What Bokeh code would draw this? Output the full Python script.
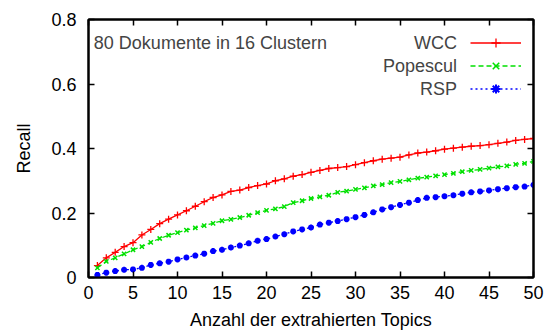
from bokeh.plotting import figure
from bokeh.models import (Range1d, FixedTicker, LinearAxis, Legend, LegendItem, Label)
from bokeh.embed import file_html
from bokeh.resources import INLINE

topics = list(range(1, 51))
wcc = [0.037, 0.061, 0.078, 0.096, 0.108, 0.132, 0.149, 0.167, 0.181, 0.194,
       0.207, 0.221, 0.235, 0.248, 0.256, 0.267, 0.271, 0.279, 0.285, 0.290,
       0.300, 0.306, 0.314, 0.319, 0.326, 0.332, 0.338, 0.341, 0.344, 0.350,
       0.356, 0.362, 0.367, 0.370, 0.373, 0.380, 0.386, 0.389, 0.393, 0.398,
       0.401, 0.404, 0.407, 0.409, 0.412, 0.416, 0.420, 0.425, 0.428, 0.431]
popescul = [0.030, 0.050, 0.061, 0.073, 0.086, 0.096, 0.109, 0.121, 0.131, 0.139,
            0.147, 0.154, 0.161, 0.168, 0.176, 0.180, 0.186, 0.193, 0.201, 0.208,
            0.213, 0.220, 0.232, 0.238, 0.245, 0.250, 0.255, 0.264, 0.268, 0.273,
            0.278, 0.284, 0.288, 0.294, 0.298, 0.303, 0.308, 0.311, 0.315, 0.319,
            0.323, 0.328, 0.332, 0.335, 0.339, 0.343, 0.346, 0.351, 0.354, 0.360]
rsp = [0.008, 0.015, 0.020, 0.024, 0.025, 0.030, 0.039, 0.044, 0.049, 0.056,
       0.062, 0.068, 0.074, 0.082, 0.086, 0.093, 0.099, 0.106, 0.114, 0.119,
       0.127, 0.134, 0.143, 0.149, 0.155, 0.164, 0.170, 0.175, 0.181, 0.187,
       0.194, 0.202, 0.211, 0.218, 0.225, 0.232, 0.240, 0.247, 0.249, 0.252,
       0.255, 0.260, 0.264, 0.267, 0.270, 0.274, 0.277, 0.280, 0.282, 0.287]

series_names = ["WCC", "Popescul", "RSP"]
xticks = [0, 5, 10, 15, 20, 25, 30, 35, 40, 45, 50]
yticks = [0, 0.2, 0.4, 0.6, 0.8]
ytick_labels = ["0", "0.2", "0.4", "0.6", "0.8"]
title_text = "80 Dokumente in 16 Clustern"
x_label = "Anzahl der extrahierten Topics"
y_label = "Recall"

FONT = "Liberation Sans"
FS = "18px"

p = figure(width=557, height=333, output_backend="svg", toolbar_location=None,
           x_range=Range1d(0, 50), y_range=Range1d(0, 0.8),
           min_border_left=88, min_border_right=24, min_border_top=19, min_border_bottom=56)
p.grid.visible = False
p.outline_line_color = "black"
p.outline_line_width = 2
p.background_fill_color = "white"
p.border_fill_color = "white"

xa = p.xaxis[0]
ya = p.yaxis[0]
xa.ticker = FixedTicker(ticks=xticks)
ya.ticker = FixedTicker(ticks=yticks)
ya.major_label_overrides = {t: l for t, l in zip(yticks, ytick_labels)}
for ax in (xa, ya):
    ax.major_tick_in = 6
    ax.major_tick_out = 0
    ax.minor_tick_in = 0
    ax.minor_tick_out = 0
    ax.major_tick_line_width = 1.5
    ax.axis_line_width = 2
    ax.major_label_text_font = FONT
    ax.major_label_text_font_size = FS
    ax.major_label_text_color = "black"
    ax.axis_label_text_font = FONT
    ax.axis_label_text_font_size = FS
    ax.axis_label_text_font_style = "normal"
    ax.axis_label_text_color = "black"
xa.axis_label = x_label
ya.axis_label = y_label
xa.major_label_standoff = 8
xa.axis_label_standoff = 8
ya.major_label_standoff = 12
ya.axis_label_standoff = 14

# mirrored ticks on top and right (no labels drawn)
for loc, tk in (("above", xticks), ("right", yticks)):
    ax = LinearAxis(ticker=FixedTicker(ticks=tk), major_tick_in=6, major_tick_out=0,
                    minor_tick_in=0, minor_tick_out=0, major_tick_line_width=1.5,
                    axis_line_width=2, major_label_text_font_size="1px",
                    major_label_text_color=None, major_label_standoff=0)
    p.add_layout(ax, loc)

r1 = p.line(topics, wcc, line_color="#ff0000", line_width=1.3)
m1 = p.scatter(topics, wcc, marker="cross", size=7, line_color="#ff0000", line_width=1.3)
r2 = p.line(topics, popescul, line_color="#00e000", line_width=1.3, line_dash="5 3")
m2 = p.scatter(topics, popescul, marker="x", size=6, line_color="#00e000", line_width=1.5)
r3 = p.line(topics, rsp, line_color="#0000ff", line_width=1.3, line_dash="2 3")
m3 = p.scatter(topics, rsp, marker="asterisk", size=6, line_color="#0000ff", line_width=2)

legend = Legend(items=[LegendItem(label="", renderers=[r1, m1]),
                       LegendItem(label="", renderers=[r2, m2]),
                       LegendItem(label="", renderers=[r3, m3])],
                location="top_right", glyph_width=51, glyph_height=23, spacing=0,
                padding=0, margin=12, label_standoff=0, label_width=0,
                label_height=0, label_text_font_size="1px",
                border_line_alpha=0, background_fill_alpha=0)
p.add_layout(legend)

p.add_layout(Label(x=0.6, y=0.7265, text=title_text, text_align="left",
                   text_baseline="middle", text_font=FONT, text_font_size=FS))
for name, yy in zip(series_names, [0.7265, 0.655, 0.585]):
    p.add_layout(Label(x=41.4, y=yy, text=name, text_align="right",
                       text_baseline="middle", text_font=FONT, text_font_size=FS))

open("out.html", "w").write(file_html(p, INLINE))
